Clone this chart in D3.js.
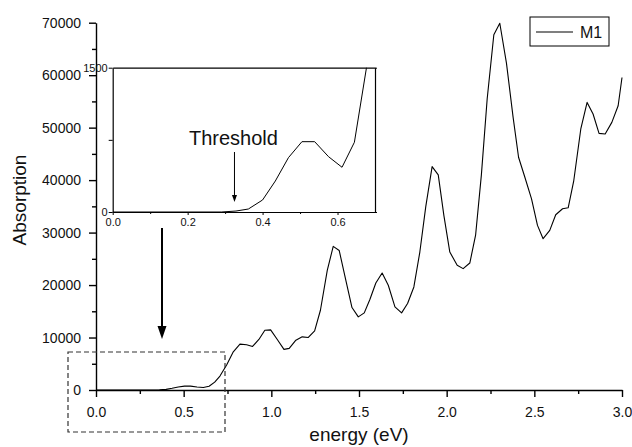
<!DOCTYPE html>
<html lang="en">
<head>
  <meta charset="UTF-8">
  <title>Absorption</title>
  <style>
    html, body { margin: 0; padding: 0; background: #fff; }
    svg { display: block; }
  </style>
</head>
<body>
  <div id="main"></div>
  <script src="https://d3js.org/d3.v7.min.js"></script>
  <script>
    // 1. data
    const energy = [0, 0.29, 0.329, 0.362, 0.400, 0.434, 0.469, 0.505, 0.539, 0.576, 0.612, 0.645, 0.677,
      0.707, 0.745, 0.783, 0.821, 0.859, 0.893, 0.929, 0.963, 0.996,
      1.034, 1.072, 1.102, 1.140, 1.176, 1.211, 1.247, 1.280, 1.319, 1.353, 1.387, 1.425, 1.460, 1.496,
      1.530, 1.562, 1.596, 1.632, 1.667, 1.705, 1.743, 1.777, 1.813, 1.847, 1.881, 1.917, 1.952, 1.984,
      2.018, 2.060, 2.094, 2.132, 2.165, 2.198, 2.231, 2.269, 2.303, 2.341, 2.379, 2.410, 2.446, 2.484,
      2.518, 2.550, 2.588, 2.622, 2.661, 2.693, 2.725, 2.765, 2.801, 2.835, 2.869, 2.904, 2.942, 2.978, 3.000]
    const absorption = [0, 0, 10, 31, 125, 322, 565, 731, 731, 575, 465, 725, 1494,
      2660, 4750, 7280, 8740, 8610, 8300, 9630, 11400, 11460,
      9630, 7740, 7930, 9500, 10130, 10020, 11270, 15200, 22800, 27380, 26600, 20900, 15720, 13940,
      14700, 17240, 20400, 22300, 19960, 15840, 14700, 16480, 19640, 26290, 35000, 42580, 41000, 33270,
      26290, 23760, 23130, 24200, 29500, 41000, 55450, 67700, 69900, 62300, 51960, 44350, 40550, 36440,
      31370, 28840, 30420, 33400, 34540, 34730, 39920, 49750, 54810, 52600, 48910, 48800, 51000, 54180, 59560]
    const seriesName = 'M1'

    const xTicks = [0, 0.5, 1.0, 1.5, 2.0, 2.5, 3.0]
    const xMinor = [0.25, 0.75, 1.25, 1.75, 2.25, 2.75]
    const yTicks = [0, 10000, 20000, 30000, 40000, 50000, 60000, 70000]
    const yMinor = [5000, 15000, 25000, 35000, 45000, 55000, 65000]
    const insetXTicks = [0, 0.2, 0.4, 0.6]
    const insetXMinor = [0.1, 0.3, 0.5]
    const insetYTicks = [0, 750, 1500]
    const insetYLabels = [0, 1500]
    const thresholdEnergy = 0.325

    const font = '"Liberation Sans", Arial, sans-serif'

    // 2. container
    const [width, height] = [632, 447]
    const svg = d3.select('#main').append('svg')
      .attr('width', width)
      .attr('height', height)
      .attr('viewBox', `0 0 ${width} ${height}`)
      .style('font-family', font)

    // 3. main scales
    const x = d3.scaleLinear().domain([0, 3]).range([96, 622])
    const y = d3.scaleLinear().domain([0, 70000]).range([390, 22.7])

    const points = energy.map((e, i) => [e, absorption[i]])

    // 4. main axes
    const styleAxis = (g, size) => {
      g.attr('font-family', font).attr('font-size', size)
      g.selectAll('line').attr('stroke', '#000').attr('stroke-width', 1.4)
      g.selectAll('path').attr('stroke', '#000').attr('stroke-width', 1.4)
      g.selectAll('text').attr('fill', '#111')
    }

    svg.append('g')
      .attr('transform', 'translate(0,390)')
      .call(d3.axisBottom(x).tickValues(xTicks).tickFormat(d3.format('.1f')).tickSize(7).tickPadding(10).tickSizeOuter(0))
      .call(g => styleAxis(g, 14))
    svg.append('g')
      .attr('transform', 'translate(0,390)')
      .call(d3.axisBottom(x).tickValues(xMinor).tickFormat('').tickSize(4).tickSizeOuter(0))
      .call(g => styleAxis(g, 14))
      .call(g => g.select('.domain').remove())

    svg.append('g')
      .attr('transform', 'translate(96,0)')
      .call(d3.axisLeft(y).tickValues(yTicks).tickFormat(d3.format('d')).tickSize(7).tickPadding(8).tickSizeOuter(0))
      .call(g => styleAxis(g, 14))
    svg.append('g')
      .attr('transform', 'translate(96,0)')
      .call(d3.axisLeft(y).tickValues(yMinor).tickFormat('').tickSize(4).tickSizeOuter(0))
      .call(g => styleAxis(g, 14))
      .call(g => g.select('.domain').remove())

    // axis titles
    svg.append('text')
      .attr('x', 359).attr('y', 441)
      .attr('text-anchor', 'middle')
      .attr('font-size', 19)
      .attr('fill', '#111')
      .text('energy (eV)')
    svg.append('text')
      .attr('transform', 'translate(26,200) rotate(-90)')
      .attr('text-anchor', 'middle')
      .attr('font-size', 19)
      .attr('fill', '#111')
      .text('Absorption')

    // 5. main curve
    const line = d3.line().x(d => x(d[0])).y(d => y(d[1]))
    svg.append('path')
      .datum(points)
      .attr('d', line)
      .attr('fill', 'none')
      .attr('stroke', '#000')
      .attr('stroke-width', 1.1)
      .attr('stroke-linejoin', 'round')

    // legend
    const legend = svg.append('g').attr('transform', 'translate(530,17)')
    legend.append('rect')
      .attr('width', 79).attr('height', 29)
      .attr('fill', '#fff').attr('stroke', '#000').attr('stroke-width', 1)
    legend.append('line')
      .attr('x1', 6).attr('x2', 43).attr('y1', 15).attr('y2', 15)
      .attr('stroke', '#000').attr('stroke-width', 1.1)
    legend.append('text')
      .attr('x', 50).attr('y', 21)
      .attr('font-size', 16)
      .attr('fill', '#111')
      .text(seriesName)

    // 6. inset
    const ix = d3.scaleLinear().domain([0, 0.7]).range([112.7, 375])
    const iy = d3.scaleLinear().domain([0, 1500]).range([212, 67.7])

    svg.append('rect')
      .attr('x', 112.7).attr('y', 67.7)
      .attr('width', 375 - 112.7).attr('height', 212 - 67.7)
      .attr('fill', '#fff')

    svg.append('defs').append('clipPath').attr('id', 'insetClip')
      .append('rect')
      .attr('x', 112.7).attr('y', 67.7)
      .attr('width', 375 - 112.7).attr('height', 212 - 67.7)

    const insetLine = d3.line().x(d => ix(d[0])).y(d => iy(d[1]))
    svg.append('path')
      .datum(points.filter(d => d[0] <= 0.72))
      .attr('clip-path', 'url(#insetClip)')
      .attr('d', insetLine)
      .attr('fill', 'none')
      .attr('stroke', '#000')
      .attr('stroke-width', 1)
      .attr('stroke-linejoin', 'round')

    const styleInset = g => {
      g.attr('font-family', font).attr('font-size', 11)
      g.selectAll('line').attr('stroke', '#000').attr('stroke-width', 1)
      g.selectAll('path').attr('stroke', '#000').attr('stroke-width', 1.2)
      g.selectAll('text').attr('fill', '#111')
    }

    svg.append('g')
      .attr('transform', 'translate(0,212)')
      .call(d3.axisBottom(ix).tickValues(insetXTicks).tickFormat(d3.format('.1f')).tickSize(3).tickPadding(3).tickSizeOuter(0))
      .call(styleInset)
    svg.append('g')
      .attr('transform', 'translate(0,212)')
      .call(d3.axisBottom(ix).tickValues(insetXMinor).tickFormat('').tickSize(2).tickSizeOuter(0))
      .call(styleInset)
      .call(g => g.select('.domain').remove())
    svg.append('g')
      .attr('transform', 'translate(0,67.7)')
      .call(d3.axisTop(ix).tickValues([]).tickSizeOuter(0))
      .call(styleInset)
    svg.append('g')
      .attr('transform', 'translate(112.7,0)')
      .call(d3.axisLeft(iy).tickValues(insetYTicks)
        .tickFormat(d => insetYLabels.includes(d) ? d : '')
        .tickSize(4).tickPadding(1).tickSizeOuter(0))
      .call(styleInset)
    svg.append('g')
      .attr('transform', 'translate(375,0)')
      .call(d3.axisRight(iy).tickValues(insetYLabels).tickFormat('').tickSize(2).tickSizeOuter(0))
      .call(styleInset)

    // threshold annotation
    const tx = ix(thresholdEnergy)
    svg.append('text')
      .attr('x', tx - 1).attr('y', 145)
      .attr('text-anchor', 'middle')
      .attr('font-size', 20)
      .attr('fill', '#111')
      .text('Threshold')
    svg.append('line')
      .attr('x1', tx).attr('x2', tx).attr('y1', 152).attr('y2', 197)
      .attr('stroke', '#000').attr('stroke-width', 1)
    svg.append('path')
      .attr('d', `M${tx - 2.5},195 L${tx + 2.5},195 L${tx},202 Z`)
      .attr('fill', '#000')

    // 7. zoom region and pointer arrow
    svg.append('rect')
      .attr('x', 68).attr('y', 352)
      .attr('width', 157).attr('height', 80)
      .attr('fill', 'none')
      .attr('stroke', '#333')
      .attr('stroke-width', 1.2)
      .attr('stroke-dasharray', '5,3')

    svg.append('line')
      .attr('x1', 162).attr('x2', 162).attr('y1', 228).attr('y2', 330)
      .attr('stroke', '#000').attr('stroke-width', 2)
    svg.append('path')
      .attr('d', 'M157.5,326 L166.5,326 L162,339 Z')
      .attr('fill', '#000')
  </script>
</body>
</html>
